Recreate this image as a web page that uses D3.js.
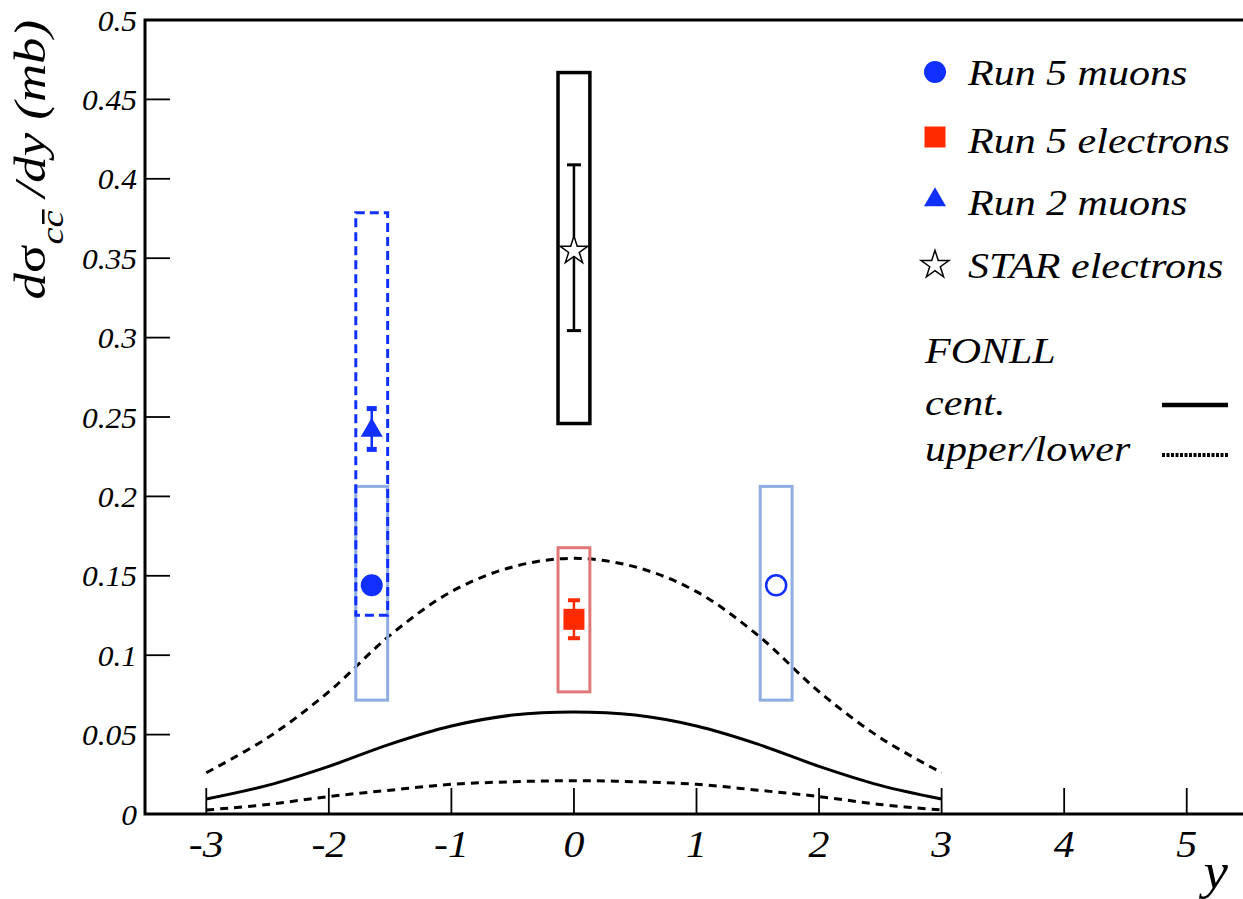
<!DOCTYPE html>
<html>
<head>
<meta charset="utf-8">
<script src="https://cdn.jsdelivr.net/npm/d3@7"></script>
<style>
  html, body { margin: 0; padding: 0; background: #fff; }
  svg { display: block; }
</style>
</head>
<body>
<svg id="chart" width="1243" height="899"></svg>
<script>
// Rapidity points and FONLL charm cross-section bands (mb)
const fonllY = [-3, -2.5, -2, -1.5, -1, -0.5, 0, 0.5, 1, 1.5, 2, 2.5, 3];
const fonllCentral = [0.0094, 0.018, 0.030, 0.044, 0.0554, 0.0623, 0.0643, 0.0623, 0.0554, 0.044, 0.030, 0.018, 0.0094];
const fonllUpper   = [0.026, 0.048, 0.077, 0.1126, 0.140, 0.1556, 0.161, 0.1556, 0.140, 0.1126, 0.077, 0.048, 0.026];
const fonllLower   = [0.0025, 0.006, 0.011, 0.015, 0.0187, 0.0203, 0.021, 0.0203, 0.0187, 0.015, 0.011, 0.006, 0.0025];

// Measurements: [y, value, statLow, statHigh, sysLow, sysHigh]
const run5Muons      = [[-1.65, 0.144, null, null, 0.0717, 0.2063]];
const run5MuonsMirror = [[1.65, 0.144, null, null, 0.0717, 0.2063]];
const run5Electrons  = [[0.0, 0.1226, 0.1107, 0.1346, 0.0769, 0.1677]];
const run2Muons      = [[-1.65, 0.2415, 0.2296, 0.2553, 0.1252, 0.3786]];
const starElectrons  = [[0.0, 0.3547, 0.3044, 0.4088, 0.2459, 0.4669]];

const xTicks = [-3, -2, -1, 0, 1, 2, 3, 4, 5];
const yTicks = [0, 0.05, 0.1, 0.15, 0.2, 0.25, 0.3, 0.35, 0.4, 0.45, 0.5];
const yTickLabels = ["0", "0.05", "0.1", "0.15", "0.2", "0.25", "0.3", "0.35", "0.4", "0.45", "0.5"];
const legendLabels = ["Run 5 muons", "Run 5 electrons", "Run 2 muons", "STAR electrons"];

const FONT = "Liberation Serif";

const svg = d3.select("#chart");
const plotL = 145, plotR = 1248, plotT = 20, plotB = 814;
const x = d3.scaleLinear().domain([-3.5, 5.5]).range([plotL, plotR]);
const y = d3.scaleLinear().domain([0, 0.5]).range([plotB, plotT]);

const BLUE = "#1030ff", LBLUE = "#8fade2", RED = "#ff2a00", LRED = "#e07878";
const halfW = 0.13; // half width of systematic boxes in rapidity units

// Text helper: serif italic, widened along the text direction
function label(g, str, px, py, o = {}) {
  return g.append("text")
    .attr("transform", `translate(${px},${py}) rotate(${o.rot || 0}) scale(${o.sx || 1},1)`)
    .attr("text-anchor", o.anchor || "start")
    .attr("dy", o.dy || 0)
    .attr("font-family", FONT)
    .attr("font-style", "italic")
    .attr("font-size", o.size || 30)
    .attr("fill", "#000")
    .text(str);
}

// Frame
svg.append("rect").attr("x", plotL).attr("y", plotT)
  .attr("width", plotR - plotL).attr("height", plotB - plotT)
  .attr("fill", "none").attr("stroke", "#000").attr("stroke-width", 3);

// Ticks (inside)
const tickG = svg.append("g").attr("stroke", "#000").attr("stroke-width", 1.8);
xTicks.forEach(t => tickG.append("line").attr("x1", x(t)).attr("x2", x(t)).attr("y1", plotB).attr("y2", plotB - 26));
yTicks.forEach(t => tickG.append("line").attr("x1", plotL).attr("x2", plotL + 25).attr("y1", y(t)).attr("y2", y(t)));

// Tick labels
const lab = svg.append("g");
xTicks.forEach(t => label(lab, String(t), x(t), 857, { anchor: "middle", size: 38, sx: 1.1 }));
yTicks.forEach((t, i) => label(lab, yTickLabels[i], 137, y(t), { anchor: "end", size: 30, sx: 1.05, dy: "0.35em" }));

// Axis titles
label(svg, "y", 1228, 888, { anchor: "end", size: 50, sx: 1.1 });
const ytG = svg.append("g").attr("transform", `translate(45,20) rotate(-90) scale(1.2,1)`);
const yt = ytG.append("text")
  .attr("text-anchor", "end")
  .attr("font-family", FONT)
  .attr("font-style", "italic")
  .attr("font-size", 44)
  .attr("fill", "#000");
const subShift = 18, subSize = 32;
yt.append("tspan").text("d");
yt.append("tspan").attr("font-style", "normal").text("σ");
yt.append("tspan").attr("dy", subShift).attr("font-size", subSize).text("c");
yt.append("tspan").attr("font-size", subSize).text("c");
yt.append("tspan").attr("dy", -subShift).text(" /dy (mb)");
// Bar over the anti-quark c
const ext = yt.node().getExtentOfChar(3);
ytG.append("line")
  .attr("x1", ext.x + 3).attr("x2", ext.x + ext.width + 1)
  .attr("y1", subShift - 0.46 * subSize - 5).attr("y2", subShift - 0.46 * subSize - 5)
  .attr("stroke", "#000").attr("stroke-width", 2.5);

// FONLL curves
const line = d3.line().x(d => x(d[0])).y(d => y(d[1])).curve(d3.curveCatmullRom.alpha(0.5));
const curveG = svg.append("g").attr("fill", "none").attr("stroke", "#000");
curveG.append("path").attr("d", line(fonllY.map((v, i) => [v, fonllUpper[i]])))
  .attr("stroke-width", 3).attr("stroke-dasharray", "8,6");
curveG.append("path").attr("d", line(fonllY.map((v, i) => [v, fonllLower[i]])))
  .attr("stroke-width", 3).attr("stroke-dasharray", "8,6");
curveG.append("path").attr("d", line(fonllY.map((v, i) => [v, fonllCentral[i]])))
  .attr("stroke-width", 3);

// Systematic boxes
function sysBox(data, color, width, dash) {
  data.forEach(d => {
    svg.append("rect")
      .attr("x", x(d[0] - halfW)).attr("width", x(d[0] + halfW) - x(d[0] - halfW))
      .attr("y", y(d[5])).attr("height", y(d[4]) - y(d[5]))
      .attr("fill", "none").attr("stroke", color).attr("stroke-width", width)
      .attr("stroke-dasharray", dash || null);
  });
}
sysBox(run5Muons, LBLUE, 3);
sysBox(run5MuonsMirror, LBLUE, 3);
sysBox(run5Electrons, LRED, 3);
sysBox(starElectrons, "#000", 3.5);
sysBox(run2Muons, BLUE, 3, "9,5");

// Statistical error bars
function statBar(data, color, capW, capH, width) {
  data.forEach(d => {
    if (d[2] == null) return;
    const cx = x(d[0]);
    svg.append("line").attr("x1", cx).attr("x2", cx).attr("y1", y(d[2])).attr("y2", y(d[3]))
      .attr("stroke", color).attr("stroke-width", width);
    [d[2], d[3]].forEach(v => svg.append("rect")
      .attr("x", cx - capW / 2).attr("width", capW)
      .attr("y", y(v) - capH / 2).attr("height", capH).attr("fill", color));
  });
}
statBar(starElectrons, "#000", 14, 3, 2.5);
statBar(run5Electrons, RED, 12, 4, 2.5);
statBar(run2Muons, BLUE, 10, 5, 2.5);

// Markers
const sym = (type, size) => d3.symbol().type(type).size(size)();
run5Muons.forEach(d => svg.append("circle").attr("cx", x(d[0])).attr("cy", y(d[1])).attr("r", 11).attr("fill", BLUE));
run5MuonsMirror.forEach(d => svg.append("circle").attr("cx", x(d[0])).attr("cy", y(d[1])).attr("r", 10)
  .attr("fill", "#fff").attr("stroke", BLUE).attr("stroke-width", 2.5));
run5Electrons.forEach(d => svg.append("rect").attr("x", x(d[0]) - 10.5).attr("y", y(d[1]) - 10.5)
  .attr("width", 21).attr("height", 21).attr("fill", RED));
run2Muons.forEach(d => svg.append("path").attr("d", sym(d3.symbolTriangle, 210))
  .attr("transform", `translate(${x(d[0])},${y(d[1])})`).attr("fill", BLUE));
starElectrons.forEach(d => svg.append("path").attr("d", sym(d3.symbolStar, 240))
  .attr("transform", `translate(${x(d[0])},${y(d[1])})`).attr("fill", "#fff").attr("stroke", "#000").attr("stroke-width", 1.5));

// Legend
const leg = svg.append("g");
const legX = 935, legTextX = 968;
const legMarkY = [72, 137, 200, 265];
const legTextY = [85, 153, 215, 278];
leg.append("circle").attr("cx", legX).attr("cy", legMarkY[0]).attr("r", 11).attr("fill", BLUE);
leg.append("rect").attr("x", legX - 10.5).attr("y", legMarkY[1] - 10.5).attr("width", 21).attr("height", 21).attr("fill", RED);
leg.append("path").attr("d", sym(d3.symbolTriangle, 210)).attr("transform", `translate(${legX},${legMarkY[2]})`).attr("fill", BLUE);
leg.append("path").attr("d", sym(d3.symbolStar, 240)).attr("transform", `translate(${legX},${legMarkY[3]})`)
  .attr("fill", "#fff").attr("stroke", "#000").attr("stroke-width", 1.5);
legendLabels.forEach((s, i) => label(leg, s, legTextX, legTextY[i], { size: 35, sx: 1.2 }));

label(leg, "FONLL", 925, 363, { size: 35, sx: 1.2 });
label(leg, "cent.", 925, 415, { size: 35, sx: 1.2 });
label(leg, "upper/lower", 925, 461, { size: 35, sx: 1.2 });
leg.append("line").attr("x1", 1162).attr("x2", 1228).attr("y1", 405).attr("y2", 405)
  .attr("stroke", "#000").attr("stroke-width", 4.5);
leg.append("line").attr("x1", 1162).attr("x2", 1228).attr("y1", 455).attr("y2", 455)
  .attr("stroke", "#000").attr("stroke-width", 4).attr("stroke-dasharray", "3,1.5");
</script>
</body>
</html>
